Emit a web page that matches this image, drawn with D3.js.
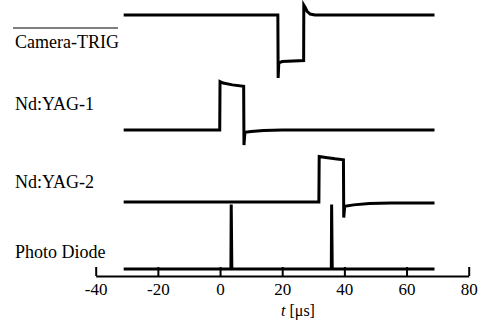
<!DOCTYPE html>
<html><head><meta charset="utf-8">
<script src="https://cdn.jsdelivr.net/npm/d3@7"></script>
</head><body style="margin:0">
<svg id="c" width="484" height="329"></svg>
<script>
// Time axis ticks (µs)
const xTicks = [-40, -20, 0, 20, 40, 60, 80];
const traceNames = ["Camera-TRIG", "Nd:YAG-1", "Nd:YAG-2", "Photo Diode"];
// Each trace: [time µs, signal level (baseline 0, step height 1)]
const cameraTrig = [[-31,0],[18.6,0],[18.7,-1.34],[18.9,-1.02],[20,-0.99],[26.9,-0.97],[26.95,0.21],[27.4,0.16],[28,0.08],[29,0.02],[30.5,0],[69,0]];
const ndYag1 = [[-31,0],[-0.1,0],[0,1.03],[1,1.0],[4,0.96],[7.6,0.93],[7.7,-0.32],[8,-0.05],[10,-0.03],[14,-0.01],[20,0],[69,0]];
const ndYag2 = [[-31,0.02],[31.8,0.02],[31.9,0.99],[34,0.97],[37,0.94],[39.7,0.92],[39.8,-0.31],[40.1,-0.07],[43,-0.04],[48,-0.01],[55,0],[69,0]];
const photoDiode = [[-31,0],[3.5,0],[3.6,1.37],[3.8,0],[35.8,0],[35.9,1.37],[36.1,0],[69,0]];

const svg = d3.select("#c");
const x = d3.scaleLinear().domain([-40, 80]).range([95.7, 468.7]);
const traces = [cameraTrig, ndYag1, ndYag2, photoDiode];
const baselines = [15, 130, 203, 269];
const labelY = [48, 110, 188, 258];
const amp = 47;

function serif(sel) {
  sel.attr("font-family", "Liberation Serif").style("font-family", '"Liberation Serif"');
}

traces.forEach((data, i) => {
  const y = d3.scaleLinear().domain([0, 1]).range([baselines[i], baselines[i] - amp]);
  svg.append("path").datum(data)
    .attr("fill", "none").attr("stroke", "#000").attr("stroke-width", 3)
    .attr("stroke-linejoin", "miter")
    .attr("d", d3.line().x(d => x(d[0])).y(d => y(d[1])));
  svg.append("text").attr("x", 15).attr("y", labelY[i])
    .attr("font-size", 18).call(serif).text(traceNames[i]);
});

svg.append("line").attr("x1", 13).attr("x2", 118).attr("y1", 28).attr("y2", 28)
  .attr("stroke", "#000").attr("stroke-width", 1);

const ax = svg.append("g").attr("transform", "translate(0,276)")
  .call(d3.axisBottom(x).tickValues(xTicks).tickFormat(d => String(d))
    .tickSizeInner(-9).tickSizeOuter(0).tickPadding(8));
ax.call(serif).attr("font-size", 17);
ax.select(".domain").attr("stroke-width", 2);
ax.selectAll(".tick line").attr("stroke-width", 2);
ax.selectAll(".tick text").call(serif).attr("font-size", 17)
  .attr("fill", "#000").attr("dy", "0.66em");

const title = svg.append("text").attr("x", 298).attr("y", 316).attr("text-anchor", "middle")
  .attr("font-size", 16).call(serif);
title.append("tspan").attr("font-style", "italic").text("t");
title.append("tspan").text(" [μs]");
</script>
</body></html>
